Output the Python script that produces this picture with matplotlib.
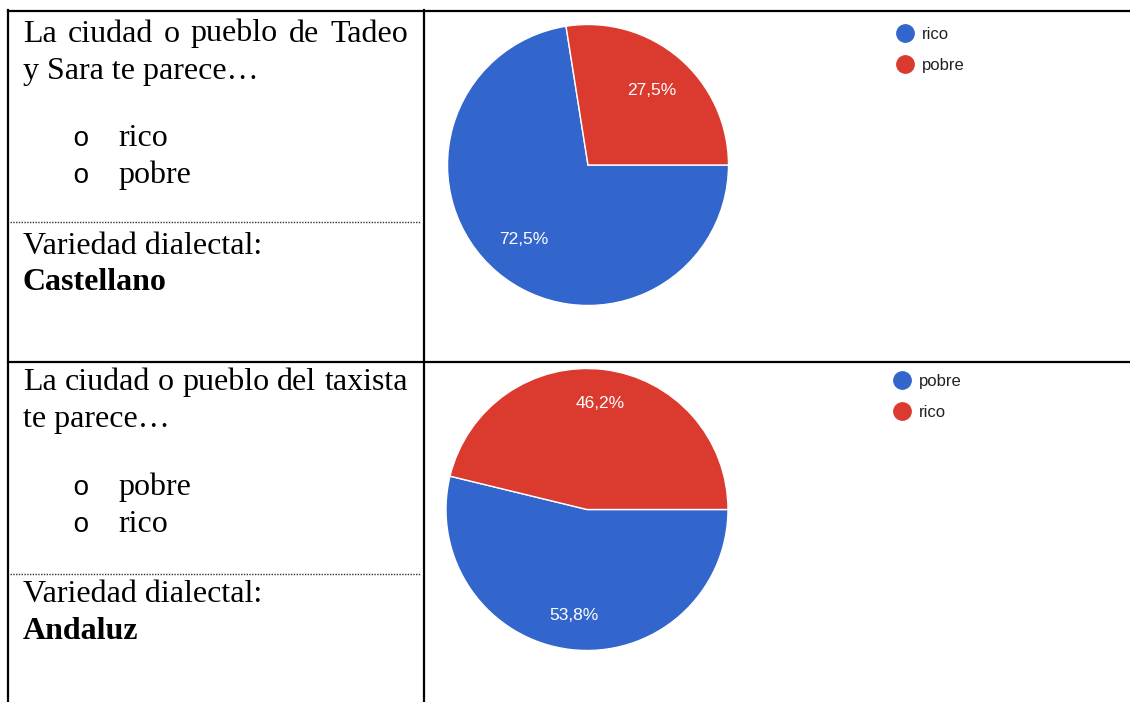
import matplotlib
matplotlib.use("Agg")
import matplotlib.pyplot as plt
from matplotlib.lines import Line2D

# Survey answers (percent)
q1_labels = ["rico", "pobre"]
q1_values = [72.5, 27.5]
q2_labels = ["pobre", "rico"]
q2_values = [53.8, 46.2]
slice_colors = ["#3366cc", "#db3a2f"]

# Left column text
q1_title = ["La ciudad o pueblo de Tadeo", "y Sara te parece…"]
q2_title = ["La ciudad o pueblo del taxista", "te parece…"]
variety_label = "Variedad dialectal:"
q1_variety = "Castellano"
q2_variety = "Andaluz"

W, H = 1130, 702
fig = plt.figure(figsize=(W / 100, H / 100), dpi=100)

# overlay axes in pixel coordinates (y downward)
bg = fig.add_axes([0, 0, 1, 1])
bg.set_xlim(0, W)
bg.set_ylim(H, 0)
bg.axis("off")

serif = dict(family="Liberation Serif", fontsize=23, color="black")


def justified_line(ax, text, x0, x1, y, **kw):
    words = text.split()
    r = ax.figure.canvas.get_renderer()
    items = [ax.text(0, y, w, va="baseline", ha="left", **kw) for w in words]
    widths = [t.get_window_extent(r).width for t in items]
    gap = (x1 - x0 - sum(widths)) / (len(words) - 1)
    x = x0
    for t, w in zip(items, widths):
        t.set_x(x)
        x += w + gap


# table borders
bg.plot([8, 8], [10, H], color="black", lw=1.6)
bg.plot([424, 424], [10, H], color="black", lw=1.6)
bg.plot([8, W], [11, 11], color="black", lw=1.6)
bg.plot([8, W], [361.5, 361.5], color="black", lw=1.6)
bg.plot([10, 421], [222, 222], color="#333333", lw=1.0, ls=(0, (1, 1)))
bg.plot([10, 421], [574, 574], color="#333333", lw=1.0, ls=(0, (1, 1)))


def text_block(y0, title, options, variety):
    justified_line(bg, title[0], 23, 408, y0, **serif)
    bg.text(23, y0 + 37.5, title[1], va="baseline", **serif)
    for i, opt in enumerate(options):
        y = y0 + 105 + i * 36.5
        bg.text(72, y, "o", va="baseline", family="Liberation Mono",
                fontsize=20, color="black")
        bg.text(118, y, opt, va="baseline", **serif)
    bg.text(23, y0 + 212, variety_label, va="baseline", **serif)
    bg.text(23, y0 + 249, variety, va="baseline", fontweight="bold", **serif)


text_block(41.5, q1_title, q1_labels, q1_variety)
text_block(390, q2_title, q2_labels, q2_variety)


def pie_chart(cx, cy, rad, values, labels, pctdist, leg_x, leg_y):
    ax = fig.add_axes([(cx - rad) / W, 1 - (cy + rad) / H, 2 * rad / W, 2 * rad / H])
    wedges, _, autotexts = ax.pie(
        values, colors=slice_colors, startangle=0, counterclock=False,
        radius=1, pctdistance=pctdist,
        autopct=lambda p: f"{p:.1f}%".replace(".", ","),
        wedgeprops=dict(edgecolor="white", linewidth=1.0),
        textprops=dict(color="white", family="Liberation Sans", fontsize=12.5),
    )
    ax.set_xlim(-1, 1)
    ax.set_ylim(-1, 1)
    ax.axis("off")
    handles = [Line2D([], [], ls="none", marker="o", markersize=12.5,
                      markerfacecolor=c, markeredgecolor=c) for c in slice_colors]
    fig.legend(handles, labels, loc="upper left",
               bbox_to_anchor=(leg_x / W, 1 - leg_y / H),
               frameon=False, borderpad=0, borderaxespad=0,
               handlelength=1.0, handletextpad=0.5, labelspacing=0.95,
               prop=dict(family="Liberation Sans", size=12),
               labelcolor="#222222")


pie_chart(588, 165, 140.5, q1_values, q1_labels, 0.70, 897, 27)
pie_chart(587, 509.5, 141, q2_values, q2_labels, 0.76, 894, 374)

fig.savefig("out.png", dpi=100)
